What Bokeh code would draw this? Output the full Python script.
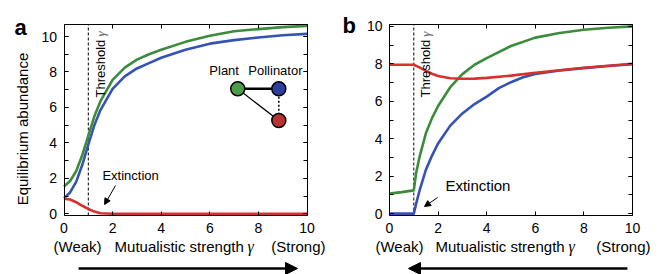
import math
from bokeh.plotting import figure
from bokeh.models import Range1d, LinearAxis, SingleIntervalTicker, Label, Arrow, NormalHead
from bokeh.layouts import row
from bokeh.embed import file_html
from bokeh.resources import INLINE

# ---------------- data ----------------
# Panel a
xa = [0, 0.25, 0.5, 0.75, 1, 1.25, 1.5, 2, 2.5, 3, 3.5, 4, 5, 6, 7, 8, 9, 10]
green_a = [1.54, 1.85, 2.4, 3.3, 4.4, 5.5, 6.35, 7.55, 8.25, 8.7, 9.0, 9.25, 9.7, 10.05, 10.3, 10.42, 10.53, 10.6]
blue_a = [0.88, 1.2, 1.8, 2.75, 3.9, 5.0, 5.85, 7.05, 7.75, 8.2, 8.5, 8.8, 9.25, 9.6, 9.8, 9.95, 10.07, 10.15]
red_a = [0.85, 0.8, 0.65, 0.45, 0.27, 0.12, 0.03, 0, 0, 0, 0, 0, 0, 0, 0, 0, 0, 0]

# Panel b
xb_green = [0, 0.5, 1.0, 1.1, 1.25, 1.5, 1.75, 2, 2.5, 3, 3.5, 4, 5, 6, 7, 8, 9, 10]
green_b = [1.07, 1.15, 1.24, 2.2, 3.1, 4.3, 5.1, 5.75, 6.75, 7.45, 7.95, 8.3, 8.95, 9.4, 9.65, 9.82, 9.93, 10.0]
xb_blue = [0, 1.0, 1.1, 1.25, 1.5, 1.75, 2, 2.5, 3, 3.5, 4, 4.5, 5, 5.5, 6, 7, 8, 9, 10]
blue_b = [0, 0, 0.55, 1.3, 2.35, 3.1, 3.75, 4.7, 5.35, 5.85, 6.25, 6.7, 7.02, 7.28, 7.46, 7.64, 7.77, 7.88, 7.98]
xb_red = [0, 1.0, 1.25, 1.5, 1.75, 2, 2.5, 3, 3.5, 4, 5, 6, 7, 8, 9, 10]
red_b = [7.95, 7.95, 7.8, 7.62, 7.47, 7.35, 7.23, 7.2, 7.21, 7.25, 7.37, 7.52, 7.66, 7.79, 7.9, 8.0]

threshold = 1.0
x_lim = (0, 10)
ylim_a = (-0.1, 10.68)
ylim_b = (-0.1, 10.1)
x_tick_interval = 2
y_tick_interval = 2

# network inset (panel a)
node_x = [7.15, 8.84, 8.84]
node_y = [7.05, 7.05, 5.26]
node_colors = ["#4a9e47", "#2c3f9e", "#b83232"]
node_names = ["Plant", "Pollinator"]
name_x = [6.59, 8.70]
name_y = 8.08

GREEN = "#3d8c3d"
BLUE = "#3553b5"
RED = "#d8312d"
FONT = "Liberation Sans"

FIG_W, FIG_H = 330, 274
BOX_TOP, BOX_BOTTOM = 24, 215      # plot box position inside each figure (px)


def make_fig(box_left, box_right, ylim):
    """Whole-figure frame; the plot box is drawn with axes fixed at data locations."""
    xpx = (box_right - box_left) / (x_lim[1] - x_lim[0])
    ypx = (BOX_BOTTOM - BOX_TOP) / (ylim[1] - ylim[0])
    xr = Range1d(x_lim[0] - box_left / xpx, x_lim[1] + (FIG_W - box_right) / xpx)
    yr = Range1d(ylim[0] - (FIG_H - BOX_BOTTOM) / ypx, ylim[1] + BOX_TOP / ypx)
    p = figure(width=FIG_W, height=FIG_H, x_range=xr, y_range=yr, title=None,
               output_backend="svg", toolbar_location=None, min_border=0,
               x_axis_type=None, y_axis_type=None)
    p.xgrid.visible = False
    p.ygrid.visible = False
    p.outline_line_color = None
    p.background_fill_color = "white"
    p.border_fill_color = "white"
    specs = [("below", "x", ylim[0], True), ("above", "x", ylim[1], False),
             ("left", "y", x_lim[0], True), ("right", "y", x_lim[1], False)]
    for loc, dim, fixed, lab in specs:
        if dim == "x":
            ax = LinearAxis(ticker=SingleIntervalTicker(interval=x_tick_interval, num_minor_ticks=0),
                            fixed_location=fixed, bounds=x_lim)
        else:
            ax = LinearAxis(ticker=SingleIntervalTicker(interval=y_tick_interval, num_minor_ticks=2),
                            fixed_location=fixed, bounds=ylim)
        ax.axis_line_color = "black"
        ax.axis_line_width = 1
        ax.major_tick_in = 4
        ax.major_tick_out = 0
        ax.minor_tick_in = 4
        ax.minor_tick_out = 0
        ax.major_tick_line_color = "black"
        ax.minor_tick_line_color = "black"
        if lab:
            ax.major_label_text_font = FONT
            ax.major_label_text_font_size = "14px"
            ax.major_label_text_color = "black"
            ax.major_label_standoff = 7
        else:
            ax.major_label_text_color = None
        p.add_layout(ax, loc)
    p.line([threshold, threshold], list(ylim), line_color="black", line_width=1, line_dash="3 2")
    return p


def add_text(p, x, y, text, size, **kw):
    params = dict(x=x, y=y, text=text, text_font=kw.pop("font", FONT), text_font_size=size,
                  text_color=kw.pop("color", "black"), text_baseline=kw.pop("baseline", "middle"),
                  text_align=kw.pop("align", "left"))
    params.update(kw)
    p.add_layout(Label(**params))


def xlabel(p, xs, y):
    add_text(p, xs[0], y, "(Weak)", "15px")
    add_text(p, xs[1], y, "Mutualistic strength", "15px")
    add_text(p, xs[2], y, "γ", "16px", font="Liberation Serif", text_font_style="italic")
    add_text(p, xs[3], y, "(Strong)", "15px", align="right")


def threshold_label(p, x, y0, y1):
    add_text(p, x, y0, "Threshold", "13px", baseline="top", angle=math.pi / 2)
    add_text(p, x, y1, "γ", "13px", baseline="top", angle=math.pi / 2,
             font="Liberation Serif", text_font_style="italic", color="#666666")


def big_arrow(p, x0, x1, y):
    p.add_layout(Arrow(end=NormalHead(size=12, fill_color="black", line_color="black"),
                       x_start=x0, y_start=y, x_end=x1, y_end=y, line_width=2.5, line_color="black"))


def small_arrow(p, x0, y0, x1, y1):
    p.add_layout(Arrow(end=NormalHead(size=6, fill_color="black", line_color="black", line_width=1),
                       x_start=x0, y_start=y0, x_end=x1, y_end=y1, line_width=1, line_color="black"))


# ---------------- panel a ----------------
p1 = make_fig(63.5, 306.5, ylim_a)
p1.line(xa, blue_a, line_color=BLUE, line_width=2.6)
p1.line(xa, green_a, line_color=GREEN, line_width=2.6)
p1.line(xa, red_a, line_color=RED, line_width=2.6)

add_text(p1, -2.04, 10.51, "a", "22px", baseline="alphabetic", text_font_style="bold")
add_text(p1, -1.71, 4.78, "Equilibrium abundance", "15px", align="center", angle=math.pi / 2)
xlabel(p1, [-0.43, 2.08, 7.55, 10.76], -1.85)
threshold_label(p1, 1.19, 6.56, 10.0)

add_text(p1, 1.58, 2.16, "Extinction", "13px")
small_arrow(p1, 2.12, 1.59, 1.67, 0.52)

# network inset
p1.line([node_x[0], node_x[1]], [node_y[0], node_y[1]], line_color="black", line_width=2.5)
p1.line([node_x[0], node_x[2]], [node_y[0], node_y[2]], line_color="black", line_width=1.2)
p1.line([node_x[1], node_x[2]], [node_y[1], node_y[2]], line_color="black", line_width=1.5, line_dash="2 2")
p1.scatter(node_x, node_y, size=14, fill_color=node_colors, line_color="black", line_width=1.5)
for nx, nm in zip(name_x, node_names):
    add_text(p1, nx, name_y, nm, "13px", align="center")

big_arrow(p1, 0.6, 9.61, -3.09)

# ---------------- panel b ----------------
p2 = make_fig(59, 302, ylim_b)
p2.line(xb_blue, blue_b, line_color=BLUE, line_width=2.6)
p2.line(xb_green, green_b, line_color=GREEN, line_width=2.6)
p2.line(xb_red, red_b, line_color=RED, line_width=2.6)

add_text(p2, -1.93, 10.04, "b", "22px", baseline="alphabetic", text_font_style="bold")
xlabel(p2, [-0.58, 1.89, 7.37, 10.74], -1.76)
threshold_label(p2, 1.17, 6.2, 9.45)

add_text(p2, 2.30, 1.50, "Extinction", "15px")
small_arrow(p2, 1.98, 0.86, 1.44, 0.38)

big_arrow(p2, 9.79, 0.78, -2.93)

layout = row(p1, p2)
open("out.html", "w").write(file_html(layout, INLINE))
